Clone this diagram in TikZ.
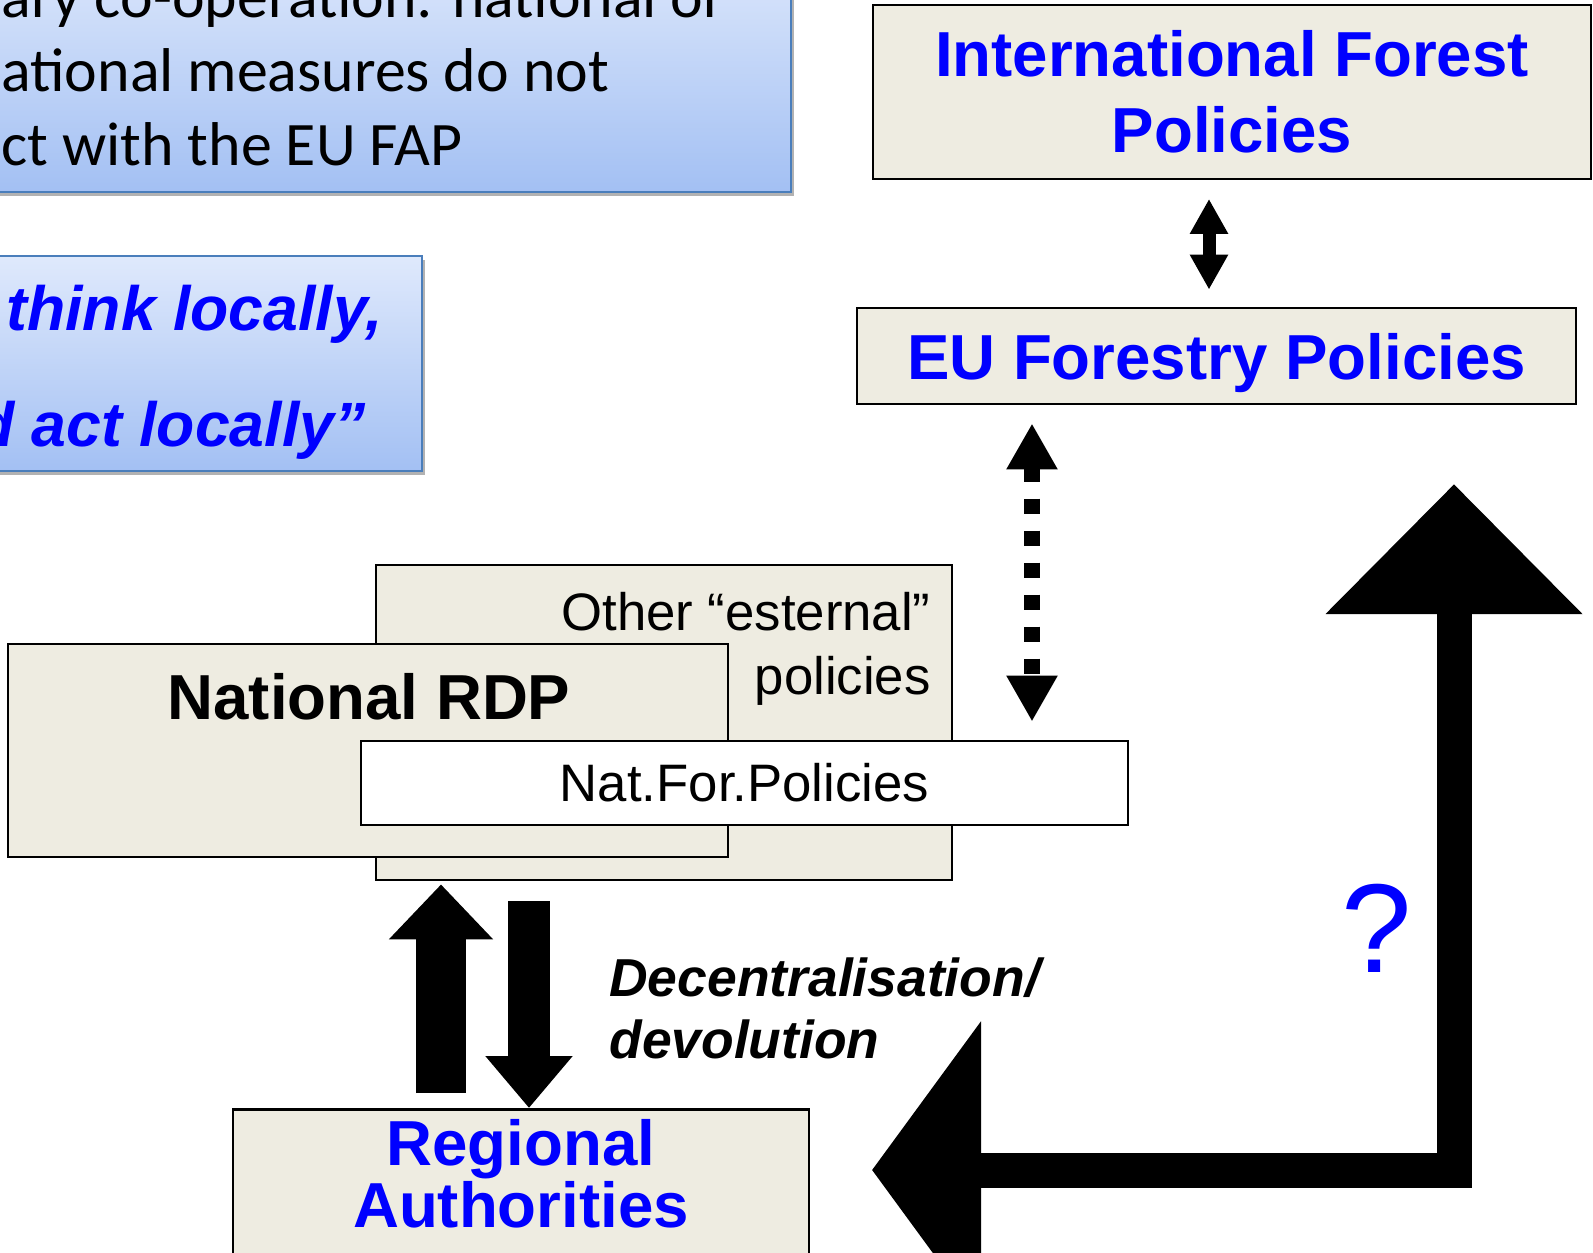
\documentclass[tikz,border=0pt]{standalone}
\usepackage{fontspec}
\setmainfont{Liberation Sans}
\newfontfamily\calibri{Carlito}
\usetikzlibrary{positioning,arrows.meta,shadows}

\definecolor{boxtan}{HTML}{EEECE1}
\definecolor{titleblue}{HTML}{0000FF}
\definecolor{noteline}{HTML}{4A7EBB}
\definecolor{notetop}{HTML}{DFE9FC}
\definecolor{notebottom}{HTML}{A3C0F3}

\begin{document}
\begin{tikzpicture}[thick,
    main/.style = {draw, fill=boxtan, inner sep=0pt},
    note/.style = {draw=noteline, line width=0.6pt, top color=notetop, bottom color=notebottom,
      drop shadow={shadow xshift=0.03cm, shadow yshift=-0.04cm, opacity=0.3, fill=black}},
    title/.style = {font=\fontsize{18.1}{21.7}\selectfont\bfseries, text=titleblue, align=center},
    plain/.style = {font=\fontsize{15}{18}\selectfont, inner sep=0pt},
    slogan/.style = {inner sep=0pt, font=\fontsize{17.8}{21}\selectfont\bfseries\itshape, text=titleblue}]
  \useasboundingbox (0,0) rectangle (15.93,-12.52);
  \clip (0,0) rectangle (15.93,-12.52);

  % notes on the left
  \node[note, minimum width=8.5cm, minimum height=2.5cm, anchor=south east] (7) at (7.92,-1.93) {};
  \foreach \txt [count=\i] in {ary co-operation: national or, ational measures do not, ct with the EU FAP}
    \node[anchor=base west, inner sep=0pt, font=\calibri\fontsize{17.6}{21}\selectfont] (7\i) at (0,{-0.17-0.74*(\i-1)}) {\txt};

  \node[note, minimum width=5cm, minimum height=2.15cm, anchor=north east] (8) at (4.23,-2.55) {};
  \node[slogan, anchor=base west] (81) at (0.05,-3.30) {think locally,};
  \node[slogan, anchor=base east] (82) at (3.67,-4.46) {and act locally”};

  % policy levels
  \node[main, title, minimum width=7.18cm, minimum height=1.74cm] (1) at (12.32,-0.92) {International Forest\\Policies};
  \node[main, title, minimum width=7.19cm, minimum height=0.96cm, text depth=0pt] (2) at (12.165,-3.56) {EU Forestry Policies};

  \node[main, minimum width=5.76cm, minimum height=3.15cm] (3) at (6.64,-7.225) {};
  \node[plain, anchor=base east] (3a) at (9.32,-6.30) {Other “esternal”};
  \node[plain, anchor=base east] (3b) at (9.32,-6.94) {policies};

  \node[main, minimum width=7.2cm, minimum height=2.13cm] (4) at (3.68,-7.505) {};
  \node[title, text=black, anchor=base] (4a) at (3.69,-7.19) {National RDP};

  \node[main, plain, fill=white, minimum width=7.67cm, minimum height=0.84cm] (5) at (7.445,-7.83) {Nat.For.Policies};

  \node[main, minimum width=5.76cm, minimum height=2cm, anchor=north] (6) at (5.21,-11.08) {};
  \node[title, anchor=base] (6a) at (5.21,-11.65) {Regional};
  \node[title, anchor=base] (6b) at (5.21,-12.27) {Authorities};

  \node[anchor=base west, inner sep=0pt, font=\fontsize{15.2}{18}\selectfont\bfseries\itshape] (9a) at (6.08,-9.96) {Decentralisation/};
  \node[anchor=base west, inner sep=0pt, font=\fontsize{15.2}{18}\selectfont\bfseries\itshape] (9b) at (6.08,-10.58) {devolution};
  \node[anchor=base, inner sep=0pt, font=\fontsize{36}{40}\selectfont, text=titleblue] (q) at (13.77,-9.72) {?};

  % arrows
  \coordinate (ax) at (12.09,0);
  \coordinate (dx) at (10.32,0);
  \coordinate (ux) at (4.41,0);
  \coordinate (vx) at (5.29,0);
  \coordinate (cl) at (8.72,-11.70);
  \coordinate (cu) at (14.54,-4.84);

  \draw[line width=0.13cm, {Triangle[width=0.36cm,length=0.35cm]}-{Triangle[width=0.36cm,length=0.35cm]}, shorten <=0.185cm, shorten >=0.17cm] (1.south -| ax) -- (2.north -| ax);
  \draw[line width=0.16cm, dash pattern=on 0.15cm off 0.17cm, {Triangle[width=0.48cm,length=0.46cm]}-{Triangle[width=0.48cm,length=0.46cm]}, shorten <=0.18cm, shorten >=0.18cm] (2.south -| dx) -- (5.north -| dx);
  \draw[line width=0.5cm, -{Triangle[width=1.01cm,length=0.55cm]}, shorten <=0.15cm, shorten >=0.03cm] (6.north -| ux) -- (3.south -| ux);
  \draw[line width=0.42cm, -{Triangle[width=0.84cm,length=0.52cm]}, shorten <=0.2cm] (3.south -| vx) -- (6.north -| vx);
  \draw[line width=0.35cm, {Triangle[width=2.92cm,length=1.09cm]}-{Triangle[width=2.49cm,length=1.30cm]}] (cl) -| (cu);
\end{tikzpicture}
\end{document}
